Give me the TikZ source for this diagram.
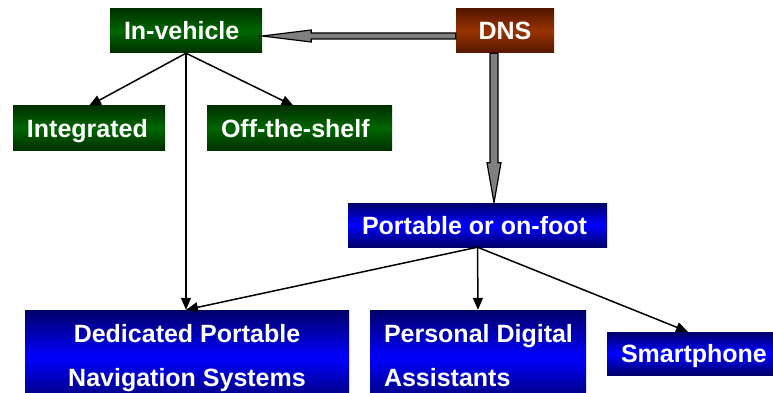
\documentclass[tikz,border=0pt]{standalone}
\usepackage{fontspec}
\setmainfont{Liberation Sans}
\usetikzlibrary{arrows.meta,calc}

% colours of the boxes (edge = darker top/bottom, mid = bright centre)
\definecolor{grnedge}{RGB}{0,48,0}
\definecolor{grnmid}{RGB}{0,102,0}
\definecolor{brnedge}{RGB}{85,22,0}
\definecolor{brnmid}{RGB}{153,51,0}
\definecolor{bluedge}{RGB}{0,0,105}
\definecolor{blumid}{RGB}{0,0,255}
\definecolor{fatgray}{RGB}{128,128,128}

% one line of box text, set in a fixed width
\newcommand\boxlineL[2]{\hbox to #1{#2\hss}}
\newcommand\boxlineC[2]{\hbox to #1{\hss#2\hss}}
% two lines of box text, first baseline is the box baseline
\newcommand\twolineL[3]{\vtop{\baselineskip=44pt\boxlineL{#1}{#2}\boxlineL{#1}{#3}}}
\newcommand\twolineC[3]{\vtop{\baselineskip=44pt\boxlineC{#1}{#2}\boxlineC{#1}{#3}}}

\tikzset{
  catbox/.style={rectangle, inner xsep=14pt, inner ysep=0pt, text=white,
    font=\bfseries\fontsize{25}{44}\selectfont,
    text height=18pt, text depth=0pt, minimum height=44pt},
  greenbox/.style={catbox, top color=grnedge, bottom color=grnedge, middle color=grnmid},
  brownbox/.style={catbox, top color=brnedge, bottom color=brnedge, middle color=brnmid},
  bluebox/.style={catbox, top color=bluedge, bottom color=bluedge, middle color=blumid},
  arr/.style={draw=black, line width=1.5pt, -{Triangle[length=12pt,width=10pt]}},
  fat/.style={draw=black, fill=fatgray, line width=1.2pt, line join=miter},
}

\begin{document}
\begin{tikzpicture}[x=1pt,y=-1pt]
\useasboundingbox (0,0) rectangle (773,393);

% top level
\node[greenbox] (inveh) at (186,31) {\boxlineL{124pt}{In-vehicle}};
\node[brownbox] (dns)   at (505,31) {\boxlineC{70pt}{DNS}};

% in-vehicle categories
\node[greenbox] (integ) at (89,128)    {\boxlineL{124pt}{Integrated}};
\node[greenbox] (offs)  at (299.5,128) {\boxlineL{157pt}{Off-the-shelf}};

% portable branch
\node[bluebox] (port) at (477.5,225) {\boxlineL{231pt}{Portable or on-foot}};

\node[bluebox, minimum height=95pt, text depth=49pt] (ded) at (187,357.5)
  {\twolineC{296pt}{Dedicated Portable}{Navigation Systems}};
\node[bluebox, minimum height=95pt, text depth=49pt] (pda) at (478,357.5)
  {\twolineL{188pt}{Personal Digital}{Assistants}};
\node[bluebox, minimum height=43pt] (smart) at (690,353.5) {\boxlineL{138pt}{Smartphone}};

% thin connectors
\draw[arr] (inveh.south) -- (integ.north);
\draw[arr] (inveh.south) -- ([xshift=-6pt]offs.north);
\draw[arr] (inveh.south) -- (inveh.south |- ded.north);
\draw[arr] (port.south) -- (inveh.south |- ded.north);
\draw[arr] (port.south) -- (pda.north);
\draw[arr] (port.south) -- ([xshift=-2pt]smart.north);

% fat arrow DNS -> In-vehicle
\coordinate (h1) at ($(dns.west)+(0,5)$);
\coordinate (h2) at ($(inveh.east)+(0,5)$);
\draw[fat] ($(h1)+(0,-3)$) -- ($(h2)+(49,-3)$) -- ($(h2)+(49,-6)$) -- (h2)
  -- ($(h2)+(49,6)$) -- ($(h2)+(49,3)$) -- ($(h1)+(0,3)$) -- cycle;

% fat arrow DNS -> Portable or on-foot
\coordinate (v1) at ($(dns.south)+(-11,0)$);
\coordinate (v2) at (v1 |- port.north);
\draw[fat] ($(v1)+(-4,0)$) -- ($(v2)+(-4,-40)$) -- ($(v2)+(-7,-40)$) -- (v2)
  -- ($(v2)+(7,-40)$) -- ($(v2)+(4,-40)$) -- ($(v1)+(4,0)$) -- cycle;
\end{tikzpicture}
\end{document}
